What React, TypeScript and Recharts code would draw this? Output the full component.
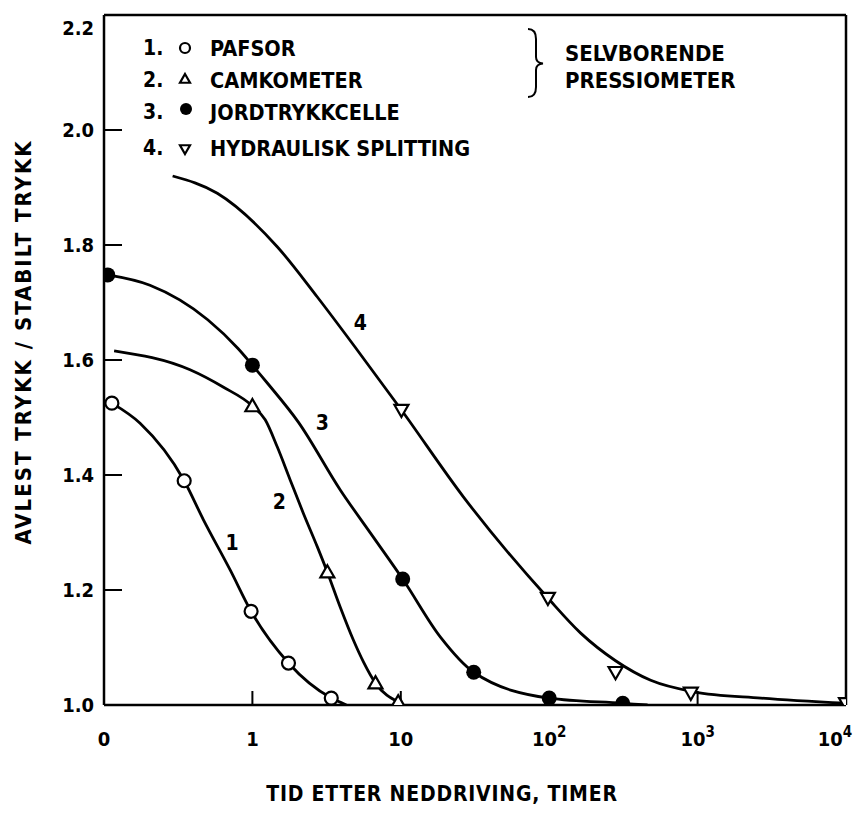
import React from "react";
import {
  ComposedChart,
  Line,
  Scatter,
  XAxis,
  YAxis,
  ReferenceLine,
  ReferenceDot,
} from "recharts";

// x = time in hours (log axis, the "0" tick sits at 0.1), v = measured / stable pressure
const xTicks = [0.1, 1, 10, 100, 1000, 10000];
const xTickBase = ["0", "1", "10", "10", "10", "10"];
const xTickExp = ["", "", "", "2", "3", "4"];
const yTicks = [1.0, 1.2, 1.4, 1.6, 1.8, 2.0, 2.2];

const seriesNames = ["PAFSOR", "CAMKOMETER", "JORDTRYKKCELLE", "HYDRAULISK SPLITTING"];
const groupNote = ["SELVBORENDE", "PRESSIOMETER"];
const xTitle = "TID ETTER NEDDRIVING, TIMER";
const yTitle = "AVLEST TRYKK / STABILT TRYKK";

// points
const pafsorCurve = [
  { t: 0.113, v: 1.525 },
  { t: 0.175, v: 1.49 },
  { t: 0.347, v: 1.39 },
  { t: 0.466, v: 1.323 },
  { t: 0.708, v: 1.235 },
  { t: 0.98, v: 1.163 },
  { t: 1.75, v: 1.073 },
  { t: 3.4, v: 1.012 },
  { t: 4.3, v: 1.0 },
];
const camCurve = [
  { t: 0.117, v: 1.616 },
  { t: 0.38, v: 1.583 },
  { t: 0.635, v: 1.553 },
  { t: 1.0, v: 1.52 },
  { t: 1.22, v: 1.496 },
  { t: 1.47, v: 1.449 },
  { t: 1.8, v: 1.391 },
  { t: 2.2, v: 1.334 },
  { t: 2.74, v: 1.275 },
  { t: 3.2, v: 1.231 },
  { t: 3.91, v: 1.17 },
  { t: 4.79, v: 1.113 },
  { t: 5.6, v: 1.075 },
  { t: 6.75, v: 1.038 },
  { t: 9.6, v: 1.005 },
];
const jordCurve = [
  { t: 0.106, v: 1.748 },
  { t: 0.204, v: 1.73 },
  { t: 0.5, v: 1.67 },
  { t: 0.8, v: 1.62 },
  { t: 1.0, v: 1.591 },
  { t: 1.26, v: 1.56 },
  { t: 2.04, v: 1.492 },
  { t: 3.91, v: 1.374 },
  { t: 6.53, v: 1.292 },
  { t: 10.3, v: 1.219 },
  { t: 18.5, v: 1.118 },
  { t: 31, v: 1.057 },
  { t: 100, v: 1.012 },
  { t: 313, v: 1.003 },
  { t: 460, v: 1.0 },
];
const hydCurve = [
  { t: 0.29, v: 1.92 },
  { t: 0.58, v: 1.89 },
  { t: 1.47, v: 1.797 },
  { t: 2.73, v: 1.71 },
  { t: 5.1, v: 1.617 },
  { t: 10.1, v: 1.513 },
  { t: 26.4, v: 1.362 },
  { t: 98, v: 1.186 },
  { t: 163, v: 1.125 },
  { t: 280, v: 1.077 },
  { t: 483, v: 1.043 },
  { t: 940, v: 1.023 },
  { t: 2673, v: 1.012 },
  { t: 10000, v: 1.003 },
];

// measured points (markers)
const pafsorMarks = [
  { t: 0.113, v: 1.525 },
  { t: 0.347, v: 1.39 },
  { t: 0.98, v: 1.163 },
  { t: 1.75, v: 1.073 },
  { t: 3.4, v: 1.012 },
];
const camMarks = [
  { t: 1.0, v: 1.52 },
  { t: 3.2, v: 1.231 },
  { t: 6.75, v: 1.038 },
  { t: 9.6, v: 1.005 },
];
const jordMarks = [
  { t: 0.106, v: 1.748 },
  { t: 1.0, v: 1.591 },
  { t: 10.3, v: 1.219 },
  { t: 31, v: 1.057 },
  { t: 100, v: 1.012 },
  { t: 313, v: 1.003 },
];
const hydMarks = [
  { t: 10.1, v: 1.513 },
  { t: 98, v: 1.186 },
  { t: 280, v: 1.057 },
  { t: 900, v: 1.021 },
  { t: 10000, v: 1.003 },
];

const FONT = "'DejaVu Sans Condensed', 'DejaVu Sans', sans-serif";
const INK = "#000";

const textStyle = {
  fontFamily: FONT,
  fontWeight: "bold" as const,
  fontStretch: "condensed",
  fill: INK,
};

function XTick({ x, y, payload }: any) {
  const i = xTicks.indexOf(payload.value);
  return (
    <text x={x} y={y} dy="0.71em" textAnchor="middle" fontSize={20} style={textStyle}>
      {xTickBase[i]}
      {xTickExp[i] ? (
        <tspan dy="-0.6em" fontSize={15}>
          {xTickExp[i]}
        </tspan>
      ) : null}
    </text>
  );
}

function YTick({ x, y, payload }: any) {
  const top = payload.value === 2.2;
  return (
    <text
      x={x}
      y={y + (top ? 11 : 0)}
      textAnchor="end"
      dominantBaseline="central"
      fontSize={20}
      style={textStyle}
    >
      {Number(payload.value).toFixed(1)}
    </text>
  );
}

const OpenCircle = ({ cx, cy, r = 6.5 }: any) => (
  <circle cx={cx} cy={cy} r={r} fill="#fff" stroke={INK} strokeWidth={2.2} />
);
const FilledCircle = ({ cx, cy, r = 7.5 }: any) => <circle cx={cx} cy={cy} r={r} fill={INK} />;
const TriUp = ({ cx, cy, s = 7 }: any) => (
  <path
    d={`M${cx},${cy - s} L${cx + s},${cy + s * 0.75} L${cx - s},${cy + s * 0.75} Z`}
    fill="#fff"
    stroke={INK}
    strokeWidth={2.2}
  />
);
const TriDown = ({ cx, cy, s = 7 }: any) => (
  <path
    d={`M${cx},${cy + s} L${cx + s},${cy - s * 0.75} L${cx - s},${cy - s * 0.75} Z`}
    fill="#fff"
    stroke={INK}
    strokeWidth={2.2}
  />
);

const curveLabel = (value: string) => ({
  value,
  position: "center" as const,
  fontSize: 21,
  style: textStyle,
});

function Overlay() {
  const rowY = [40, 72, 104, 140];
  const markers = [
    <OpenCircle key="a" cx={177} cy={rowY[0]} r={5} />,
    <TriUp key="b" cx={177} cy={rowY[1] - 1} s={5} />,
    <FilledCircle key="c" cx={178} cy={rowY[2] - 3} r={6} />,
    <TriDown key="d" cx={177} cy={rowY[3] + 1} s={5} />,
  ];
  return (
    <svg
      width={847}
      height={800}
      style={{ position: "absolute", left: 0, top: 0, pointerEvents: "none" }}
    >
      {seriesNames.map((name, i) => (
        <g key={name}>
          <text x={135} y={rowY[i]} dominantBaseline="central" fontSize={21} style={textStyle}>
            {i + 1}.
          </text>
          {markers[i]}
          <text x={202} y={rowY[i]} dominantBaseline="central" fontSize={21.5} style={textStyle}>
            {name}
          </text>
        </g>
      ))}
      <path
        d="M520,21 Q528,21 528,31 L528,49 Q528,55 535,55.5 Q528,56 528,62 L528,79 Q528,89 520,89"
        fill="none"
        stroke={INK}
        strokeWidth={2}
      />
      {groupNote.map((s, i) => (
        <text key={s} x={557} y={45 + i * 27} dominantBaseline="central" fontSize={22} style={textStyle}>
          {s}
        </text>
      ))}
      <text
        x={434}
        y={786}
        textAnchor="middle"
        dominantBaseline="central"
        fontSize={21}
        letterSpacing={0.8}
        style={textStyle}
      >
        {xTitle}
      </text>
      <text
        x={15}
        y={334}
        textAnchor="middle"
        dominantBaseline="central"
        fontSize={22}
        letterSpacing={2}
        transform="rotate(-90 15 334)"
        style={textStyle}
      >
        {yTitle}
      </text>
    </svg>
  );
}

export default function App() {
  const lineProps = {
    type: "monotone" as const,
    dataKey: "v",
    stroke: INK,
    strokeWidth: 2.8,
    dot: false,
    activeDot: false,
    isAnimationActive: false,
  };
  return (
    <div style={{ position: "relative", width: 847, height: 800, background: "#fff" }}>
      <ComposedChart width={847} height={800} margin={{ top: 7, right: 9, bottom: 0, left: 0 }}>
        <XAxis
          type="number"
          dataKey="t"
          scale="log"
          domain={[0.1, 10000]}
          ticks={xTicks}
          allowDataOverflow
          height={103}
          tickSize={-14}
          tickMargin={41}
          tick={<XTick />}
          axisLine={{ stroke: INK, strokeWidth: 2.5 }}
          tickLine={{ stroke: INK, strokeWidth: 2 }}
        />
        <YAxis
          type="number"
          dataKey="v"
          domain={[1, 2.2]}
          ticks={yTicks}
          allowDataOverflow
          width={96}
          tickSize={-18}
          tickMargin={28}
          tick={<YTick />}
          axisLine={{ stroke: INK, strokeWidth: 2.5 }}
          tickLine={{ stroke: INK, strokeWidth: 2 }}
        />
        <ReferenceLine y={2.2} stroke={INK} strokeWidth={2.5} />
        <ReferenceLine x={10000} stroke={INK} strokeWidth={2.5} />

        <Line data={pafsorCurve} {...lineProps} />
        <Line data={camCurve} {...lineProps} />
        <Line data={jordCurve} {...lineProps} />
        <Line data={hydCurve} {...lineProps} />

        <Scatter data={pafsorMarks} dataKey="v" shape={<OpenCircle />} isAnimationActive={false} />
        <Scatter data={camMarks} dataKey="v" shape={<TriUp />} isAnimationActive={false} />
        <Scatter data={jordMarks} dataKey="v" shape={<FilledCircle />} isAnimationActive={false} />
        <Scatter data={hydMarks} dataKey="v" shape={<TriDown />} isAnimationActive={false} />

        <ReferenceDot x={0.73} y={1.282} r={0} fill="none" stroke="none" label={curveLabel("1")} />
        <ReferenceDot x={1.52} y={1.353} r={0} fill="none" stroke="none" label={curveLabel("2")} />
        <ReferenceDot x={2.96} y={1.492} r={0} fill="none" stroke="none" label={curveLabel("3")} />
        <ReferenceDot x={5.33} y={1.666} r={0} fill="none" stroke="none" label={curveLabel("4")} />
      </ComposedChart>
      <Overlay />
    </div>
  );
}
